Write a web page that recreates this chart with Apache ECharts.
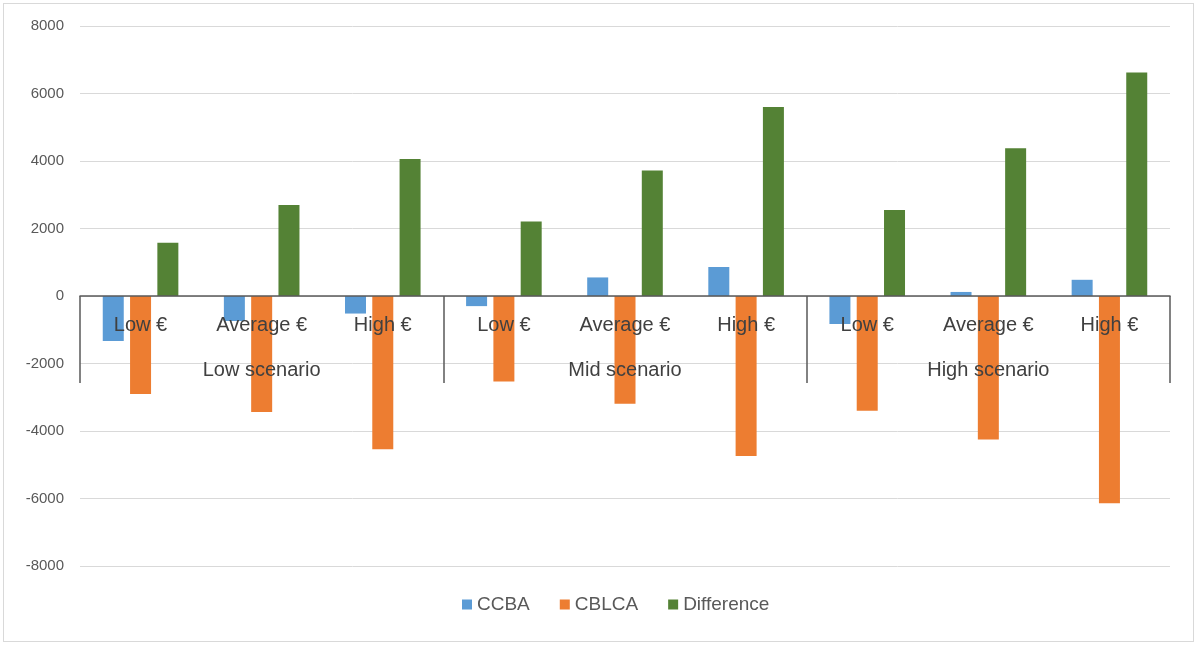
<!DOCTYPE html>
<html>
<head>
<meta charset="utf-8">
<script src="https://cdn.jsdelivr.net/npm/echarts@6/dist/echarts.min.js"></script>
<style>
html,body{margin:0;padding:0;background:#fff;}
#frame{position:absolute;left:3px;top:3px;width:1189px;height:637px;border:1px solid #d9d9d9;}
#echarts_box{position:absolute;left:0;top:0;width:1197px;height:645px;}
</style>
</head>
<body>
<div id="frame"></div>
<div id="echarts_box"></div>
<script>
var priceLevels = ['Low €','Average €','High €','Low €','Average €','High €','Low €','Average €','High €'];
var scenarios = ['Low scenario','Mid scenario','High scenario'];
var yTicks = [-8000, 8000, 2000]; // min, max, step
var ccba = [-1330, -740, -520, -300, 550, 860, -830, 120, 480];
var cblca = [-2900, -3440, -4540, -2530, -3190, -4740, -3400, -4250, -6140];
var difference = [1580, 2700, 4060, 2210, 3720, 5600, 2550, 4380, 6620];

var myChart = echarts.init(document.getElementById('echarts_box'));
var font = '"Liberation Sans", Arial, sans-serif';
// grid height 540, zero sits half way -> move the category axes up by 270
var zeroOffset = -270;

var option = {
	animation: false,
	textStyle: {fontFamily: font},
	grid: {left: 80, right: 27, top: 26, bottom: 79},
	legend: {
		top: 590,
		left: 457,
		itemWidth: 10,
		itemHeight: 10,
		itemGap: 30,
		icon: 'rect',
		textStyle: {fontSize: 19, color: '#595959', fontFamily: font},
		data: ['CCBA', 'CBLCA', 'Difference']
	},
	xAxis: [
		{
			type: 'category',
			position: 'bottom',
			offset: zeroOffset,
			z: 5,
			data: priceLevels,
			axisLine: {onZero: false, lineStyle: {color: '#595959', width: 1.5}},
			axisTick: {show: false},
			axisLabel: {interval: 0, margin: 19, fontSize: 20, color: '#404040', fontFamily: font}
		},
		{
			type: 'category',
			position: 'bottom',
			offset: zeroOffset,
			z: 5,
			data: scenarios,
			axisLine: {show: false, onZero: false},
			axisTick: {show: true, length: 87, lineStyle: {color: '#595959', width: 1.5}},
			axisLabel: {interval: 0, margin: 64, fontSize: 20, color: '#404040', fontFamily: font},
			splitLine: {show: false}
		}
	],
	yAxis: {
		type: 'value',
		min: yTicks[0],
		max: yTicks[1],
		interval: yTicks[2],
		axisLine: {show: false},
		axisTick: {show: false},
		axisLabel: {fontSize: 15, color: '#595959', margin: 16, fontFamily: font, formatter: function(v){ return String(v); }},
		splitLine: {lineStyle: {color: '#d9d9d9', width: 1}}
	},
	series: [
		{
			name: 'CCBA',
			type: 'bar',
			barWidth: 21,
			barGap: '30%',
			itemStyle: {color: '#5b9bd5'},
			data: ccba
		},
		{
			name: 'CBLCA',
			type: 'bar',
			barWidth: 21,
			barGap: '30%',
			itemStyle: {color: '#ed7d31'},
			data: cblca
		},
		{
			name: 'Difference',
			type: 'bar',
			barWidth: 21,
			barGap: '30%',
			itemStyle: {color: '#548235'},
			data: difference
		}
	]
};
myChart.setOption(option);
</script>
</body>
</html>
